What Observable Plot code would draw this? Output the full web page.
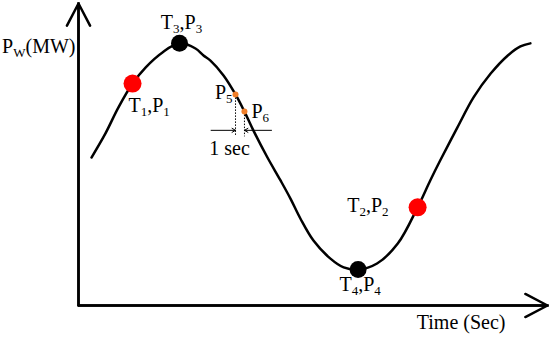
<!DOCTYPE html>
<html>
<head>
<meta charset="utf-8">
<script src="https://cdn.jsdelivr.net/npm/d3@7"></script>
<script src="https://cdn.jsdelivr.net/npm/@observablehq/plot@0.6"></script>
<style>
  html, body { margin: 0; padding: 0; background: #fff; }
  svg text, svg tspan { font-family: "Liberation Serif", "Times New Roman", serif !important; }
</style>
</head>
<body>
<div id="chart"></div>
<script>
// Axis extents (data units: time in sec, power in arbitrary MW units)
const xMax = 52;
const yMax = 100;

// Wind power curve
const curveT = [1.44, 2.99, 4.43, 5.99, 7.43, 9.31, 11.2, 12.97, 13.86, 14.63, 16.08, 17.41, 18.4, 19.4, 20.95, 22.4, 23.5, 24.6, 26.05, 27.9, 29.4, 31.0, 33.1, 35.4, 37.6, 39.0, 40.1, 42.0, 43.8, 45.7, 47.6, 49.0, 50.1];
const curveP = [49.0, 57.0, 65.6, 73.5, 78.8, 83.8, 86.8, 85.1, 82.8, 81.1, 76.2, 69.9, 64.2, 57.9, 49.0, 41.4, 35.4, 28.8, 21.5, 15.6, 12.6, 11.9, 13.9, 20.5, 32.5, 41.4, 48.0, 58.9, 68.9, 76.8, 82.8, 85.8, 86.8];

// Key points
const keyNames = ["T_1,P_1", "T_3,P_3", "T_4,P_4", "T_2,P_2"];
const keyT = [5.99, 11.2, 31.0, 37.6];
const keyP = [73.5, 86.8, 11.9, 32.5];
const keyKind = ["measured", "extreme", "extreme", "measured"];

// Sample points one second apart
const sampleNames = ["P_5", "P_6"];
const sampleT = [17.41, 18.4];
const sampleP = [69.9, 64.2];
const gapLevel = 58;    // level of the "1 sec" dimension arrows
const dropLevel = 56;   // bottom of the dotted drop lines
const arrowOuterT = [14.7, 21.4];

const curve = curveT.map((t, i) => ({t, p: curveP[i]}));
const keys = keyNames.map((name, i) => ({name, t: keyT[i], p: keyP[i], kind: keyKind[i]}));
const samples = sampleNames.map((name, i) => ({name, t: sampleT[i], p: sampleP[i]}));

const font = "'Liberation Serif', 'Times New Roman', serif";
const fs = 20;

const txt = (data, opts) => Plot.text(data, {
  x: "t", y: "p", text: "name", fontFamily: font, fontSize: fs, fill: "black",
  lineAnchor: "bottom", ...opts
});

const plot = Plot.plot({
  width: 550,
  height: 338,
  marginLeft: 78,
  marginRight: 3,
  marginTop: 3,
  marginBottom: 33,
  x: {domain: [0, xMax], axis: null},
  y: {domain: [0, yMax], axis: null},
  style: {background: "white", overflow: "visible", fontFamily: font},
  marks: [
    // axes frame
    Plot.line([{t: 0, p: yMax}, {t: 0, p: 0}, {t: xMax, p: 0}], {
      x: "t", y: "p", stroke: "black", strokeWidth: 2.5, strokeLinejoin: "miter", strokeLinecap: "square"
    }),
    Plot.arrow([{x1: 0, y1: 0, x2: 0, y2: yMax}, {x1: 0, y1: 0, x2: xMax, y2: 0}], {
      x1: "x1", y1: "y1", x2: "x2", y2: "y2", stroke: "black", strokeWidth: 2.5, headLength: 15, headAngle: 55
    }),
    // curve
    Plot.line(curve, {x: "t", y: "p", curve: "catmull-rom", stroke: "black", strokeWidth: 2.5}),
    // dotted drop lines
    Plot.link(samples, {x1: "t", x2: "t", y1: "p", y2: () => dropLevel, stroke: "black", strokeWidth: 1, strokeDasharray: "1.5,1.5"}),
    // 1 sec dimension arrows
    Plot.arrow(samples, {
      x1: (d, i) => arrowOuterT[i], x2: "t", y1: () => gapLevel, y2: () => gapLevel,
      stroke: "black", strokeWidth: 1, headLength: 6, headAngle: 60
    }),
    // key points
    Plot.dot(keys.filter(d => d.kind === "measured"), {x: "t", y: "p", r: 9, fill: "#ff0000", stroke: "none"}),
    Plot.dot(keys.filter(d => d.kind === "extreme"), {x: "t", y: "p", r: 8.5, fill: "black", stroke: "none"}),
    Plot.dot(samples, {x: "t", y: "p", r: 3, fill: "#f07f2a", stroke: "none"}),
    // labels
    txt([keys[0]], {textAnchor: "start", dx: -4, dy: 28}),
    txt([keys[1]], {textAnchor: "middle", dx: 2, dy: -14}),
    txt([keys[2]], {textAnchor: "middle", dx: 2, dy: 21}),
    txt([keys[3]], {textAnchor: "end", dx: -29, dy: 5}),
    txt([samples[0]], {textAnchor: "end", dx: -3, dy: 5}),
    txt([samples[1]], {textAnchor: "start", dx: 7, dy: 6}),
    txt([samples[0]], {text: () => "1 sec", y: () => gapLevel, textAnchor: "middle", dx: -6, dy: 25}),
    Plot.text(["P_W(MW)"], {frameAnchor: "top-left", textAnchor: "end", lineAnchor: "bottom", dx: -3, dy: 49, fontFamily: font, fontSize: fs, fill: "black"}),
    Plot.text(["Time (Sec)"], {frameAnchor: "bottom-right", textAnchor: "end", lineAnchor: "bottom", dx: -42, dy: 23, fontFamily: font, fontSize: fs, fill: "black"})
  ]
});

// Turn "_x" markers into subscripts
d3.select(plot).selectAll("text").each(function () {
  const s = this.textContent;
  if (!s.includes("_")) return;
  const parts = s.split(/_(\w)/);
  this.textContent = "";
  const sel = d3.select(this);
  let down = false;
  parts.forEach((part, i) => {
    if (part === "") return;
    const sub = i % 2 === 1;
    const ts = sel.append("tspan").text(part);
    if (sub) {
      ts.attr("font-size", 13).attr("dy", down ? null : 4);
      down = true;
    } else if (down) {
      ts.attr("dy", -4);
      down = false;
    }
  });
});

document.getElementById("chart").appendChild(plot);
</script>
</body>
</html>
